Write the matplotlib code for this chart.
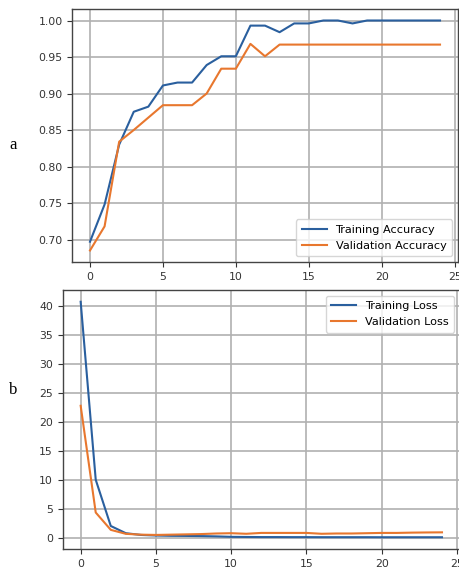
import numpy as np
import matplotlib
matplotlib.use("Agg")
import matplotlib.pyplot as plt

epochs = list(range(25))

train_acc = [0.697, 0.748, 0.830, 0.875, 0.882, 0.911, 0.915, 0.915, 0.939, 0.951,
             0.951, 0.993, 0.993, 0.984, 0.996, 0.996, 1.000, 1.000, 0.996, 1.000,
             1.000, 1.000, 1.000, 1.000, 1.000]
val_acc = [0.685, 0.718, 0.834, 0.850, 0.867, 0.884, 0.884, 0.884, 0.900, 0.934,
           0.934, 0.968, 0.951, 0.967, 0.967, 0.967, 0.967, 0.967, 0.967, 0.967,
           0.967, 0.967, 0.967, 0.967, 0.967]

train_loss = [40.8, 10.0, 2.0, 0.75, 0.45, 0.35, 0.30, 0.28, 0.25, 0.20,
              0.12, 0.10, 0.08, 0.08, 0.07, 0.07, 0.06, 0.06, 0.06, 0.06,
              0.05, 0.05, 0.05, 0.05, 0.05]
val_loss = [22.8, 4.33, 1.33, 0.64, 0.50, 0.45, 0.50, 0.55, 0.60, 0.70,
            0.75, 0.65, 0.80, 0.80, 0.80, 0.80, 0.65, 0.70, 0.70, 0.75,
            0.80, 0.80, 0.85, 0.88, 0.90]

BLUE = "#2a5f9e"
ORANGE = "#e8772e"
FS = 7.8

plt.rcParams["font.family"] = "DejaVu Sans"

fig = plt.figure(figsize=(4.6, 5.7), dpi=100)
ax1 = fig.add_axes([0.1576, 0.5404, 0.8370, 0.4438])
ax2 = fig.add_axes([0.1361, 0.0368, 0.8640, 0.4544])


def style(ax):
    ax.grid(True, color="#b0b0b0", linewidth=1.2)
    ax.set_axisbelow(True)
    ax.tick_params(labelsize=FS, colors="#333333", length=3.5)
    for s in ax.spines.values():
        s.set_color("#444444")
        s.set_linewidth(1.0)
    ax.set_xticks([0, 5, 10, 15, 20, 25])


ax1.plot(epochs, train_acc, color=BLUE, lw=1.5, label="Training Accuracy")
ax1.plot(epochs, val_acc, color=ORANGE, lw=1.5, label="Validation Accuracy")
style(ax1)
ax1.set_xlim(-1.2, 25.2)
ax1.set_yticks([0.70, 0.75, 0.80, 0.85, 0.90, 0.95, 1.00])
ax1.set_yticklabels([f"{v:.2f}" for v in [0.70, 0.75, 0.80, 0.85, 0.90, 0.95, 1.00]])
ax1.legend(loc="lower right", fontsize=8.1, handlelength=2.2, borderpad=0.5)

ax2.plot(epochs, train_loss, color=BLUE, lw=1.5, label="Training Loss")
ax2.plot(epochs, val_loss, color=ORANGE, lw=1.5, label="Validation Loss")
style(ax2)
ax2.set_xlim(-1.2, 25.2)
ax2.set_yticks([0, 5, 10, 15, 20, 25, 30, 35, 40])
ax2.legend(loc="upper right", fontsize=8.1, handlelength=2.2, borderpad=0.5)

fig.text(0.028, 1 - 145 / 570, "a", family="Liberation Serif", fontsize=12,
         ha="center", va="center")
fig.text(0.028, 1 - 390 / 570, "b", family="Liberation Serif", fontsize=12,
         ha="center", va="center")

fig.savefig("out.png", dpi=100)
